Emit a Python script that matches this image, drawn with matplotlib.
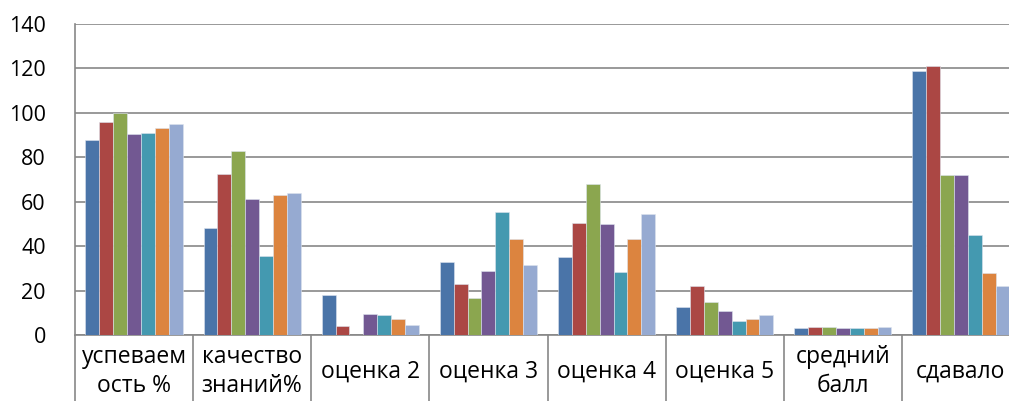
import matplotlib
matplotlib.use("Agg")
import matplotlib.pyplot as plt
import numpy as np

plt.rcParams['font.family'] = ['Open Sans', 'DejaVu Sans']

categories = ["успеваем\nость %", "качество\nзнаний%", "оценка 2", "оценка 3",
              "оценка 4", "оценка 5", "средний\nбалл", "сдавало"]

# seven series, one value per category
s1 = [88, 48, 18, 33, 35, 12.5, 3.2, 119]
s2 = [96, 72.5, 4, 23, 50.5, 22, 3.6, 121]
s3 = [100, 83, 0, 16.5, 68, 15, 3.6, 72]
s4 = [90.5, 61, 9.5, 29, 50, 11, 3.3, 72]
s5 = [91, 35.5, 8.8, 55.5, 28.5, 6.5, 3.1, 45]
s6 = [93, 63, 7, 43, 43, 7, 3.2, 28]
s7 = [95, 64, 4.5, 31.5, 54.5, 9, 3.4, 22]
series = [s1, s2, s3, s4, s5, s6, s7]

colors = ['#4A74A8', '#AB4744', '#8BA64F', '#725892', '#4499B0', '#DC843F', '#96AAD1']
yticks = [0, 20, 40, 60, 80, 100, 120, 140]

fig = plt.figure(figsize=(10.09, 4.01), dpi=100)
ax = fig.add_axes([75 / 1009, 66 / 401, 945 / 1009, 311 / 401])

x = np.arange(len(categories))
w = 1 / 8.5
for i, (vals, c) in enumerate(zip(series, colors)):
    ax.bar(x + (i - 3) * w, vals, width=w, color=c, edgecolor='#dde4ee',
           linewidth=0.4, zorder=3)

ax.set_xlim(-0.5, len(categories) - 0.5)
ax.set_ylim(0, 140)
ax.set_yticks(yticks)
ax.tick_params(axis='y', length=0, pad=21, labelsize=15.5)
ax.yaxis.grid(True, color='#878787', linewidth=1.2)
ax.set_axisbelow(True)

# category separators below the axis
ax.set_xticks(np.arange(-0.5, len(categories)))
ax.set_xticklabels([])
ax.tick_params(axis='x', length=60, width=1.2, color='#878787', direction='out')
for xi, lab in zip(x, categories):
    ax.text(xi, -0.117, lab, transform=ax.get_xaxis_transform(), ha='center',
            va='center', fontsize=16.5, linespacing=1.3)

for side in ['top', 'right']:
    ax.spines[side].set_visible(False)
for side in ['left', 'bottom']:
    ax.spines[side].set_color('#878787')
    ax.spines[side].set_linewidth(1.2)

fig.savefig("out.png", dpi=100)
